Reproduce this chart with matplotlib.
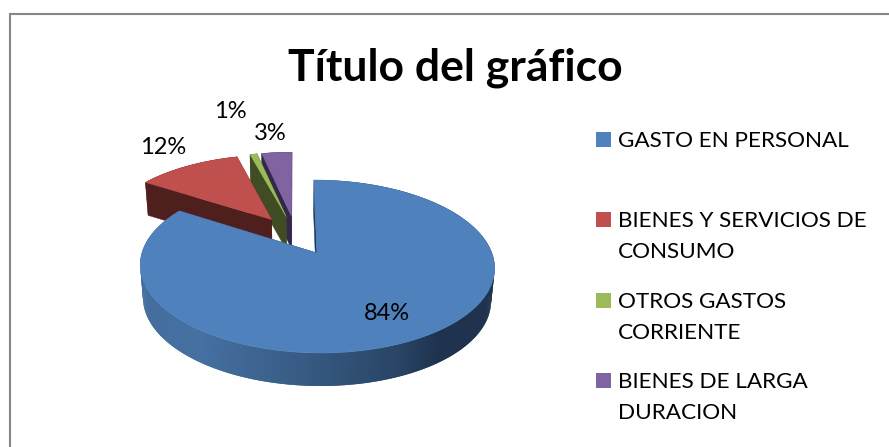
import numpy as np
import matplotlib
matplotlib.use("Agg")
from matplotlib import pyplot as plt
from matplotlib.patches import Polygon, Rectangle

plt.rcParams["font.family"] = ["Lato", "DejaVu Sans"]

# datos
categories = [
    "GASTO EN PERSONAL",
    "BIENES Y SERVICIOS DE\nCONSUMO",
    "OTROS GASTOS\nCORRIENTE",
    "BIENES DE LARGA\nDURACION",
]
values = [84.1, 11.7, 0.8, 3.4]
title = "Título del gráfico"

# estilo
top_colors = ["#4F81BD", "#C0504D", "#9BBB59", "#8064A2"]
wall_colors = ["#1F3A5C", "#4F1F1D", "#3F4C24", "#33284A"]
label_pos = [(387, 313), (163, 148), (230, 112), (270, 134)]
legend_rows = [139.5, 219.5, 300.5, 380.5]

# geometria del pastel 3D (pixeles de la imagen)
VX, CY = 295, 253  # punto de fuga en x, vertice de la rebanada azul en y
U_VP = -0.125
R, RY, K = 175, 84.4, 0.156
DEPTH = 33
SHRINK = 0.018
EXPLODE = 0.25


def project(u, v, z=0.0):
    """Disco unidad a pixeles, con algo de perspectiva."""
    w = 1 + K * v
    x = VX + (1 - SHRINK * z) * R * (u - U_VP) / w
    return x, CY - RY * v / w + z * DEPTH


def blue_wall(x):
    # claro a la izquierda, oscuro a la derecha
    stops_x = [141, 200, 300, 400, 440, 496]
    stops_c = [
        (0.27, 0.43, 0.62),
        (0.27, 0.44, 0.63),
        (0.22, 0.36, 0.52),
        (0.16, 0.27, 0.40),
        (0.12, 0.20, 0.31),
        (0.12, 0.20, 0.31),
    ]
    return [np.interp(x, stops_x, [c[i] for c in stops_c]) for i in range(3)]


fig = plt.figure(figsize=(8.89, 4.47), dpi=100)
ax = fig.add_axes([0, 0, 1, 1])
ax.set_xlim(0, 889)
ax.set_ylim(447, 0)
ax.axis("off")

# marco
ax.plot([10, 10, 889], [447, 14, 14], color="#868686", lw=1.5, solid_joinstyle="miter")

fracs = np.array(values) / sum(values)
edges = np.concatenate([[0], np.cumsum(fracs)]) * 2 * np.pi
mids = (edges[:-1] + edges[1:]) / 2

# centro comun: la rebanada azul queda en el origen de la proyeccion
u0 = -EXPLODE * np.sin(mids[0])
v0 = -EXPLODE * np.cos(mids[0])

# de atras hacia adelante
for i in [3, 2, 1, 0]:
    cu = u0 + EXPLODE * np.sin(mids[i])
    cv = v0 + EXPLODE * np.cos(mids[i])
    th = np.linspace(edges[i], edges[i + 1], max(int(values[i] * 4), 6))
    us = cu + np.sin(th)
    vs = cv + np.cos(th)

    # cara radial inicial y final
    for a, b in [(us[0], vs[0]), (us[-1], vs[-1])]:
        quad = [project(cu, cv), project(a, b), project(a, b, 1), project(cu, cv, 1)]
        ax.add_patch(Polygon(quad, closed=True, fc=wall_colors[i], ec=wall_colors[i], lw=0.3))

    # pared exterior, cada tramo pisa al siguiente para que no queden rayas
    for j in range(len(th) - 1):
        k = min(j + 2, len(th) - 1)
        quad = [
            project(us[j], vs[j]),
            project(us[k], vs[k]),
            project(us[k], vs[k], 1),
            project(us[j], vs[j], 1),
        ]
        col = blue_wall(quad[0][0]) if i == 0 else wall_colors[i]
        ax.add_patch(Polygon(quad, closed=True, fc=col, ec="none", lw=0))

    # cara superior
    pts = [project(cu, cv)] + [project(a, b) for a, b in zip(us, vs)]
    ax.add_patch(Polygon(pts, closed=True, fc=top_colors[i], ec=top_colors[i], lw=0.3))

# etiquetas
for v, (x, y) in zip(values, label_pos):
    ax.text(x, y, f"{round(v)}%", fontsize=17, ha="center", va="center", color="black")

ax.text(455, 68, title, fontsize=32, fontweight="bold", ha="center", va="center", color="black")

# leyenda
for name, col, y in zip(categories, top_colors, legend_rows):
    ax.add_patch(Rectangle((596, y - 7.5), 15, 15, fc=col, ec="none"))
    ax.text(618, y - 8.5, name, fontsize=16.2, ha="left", va="top", color="black", linespacing=1.67)

fig.savefig("out.png", dpi=100)
